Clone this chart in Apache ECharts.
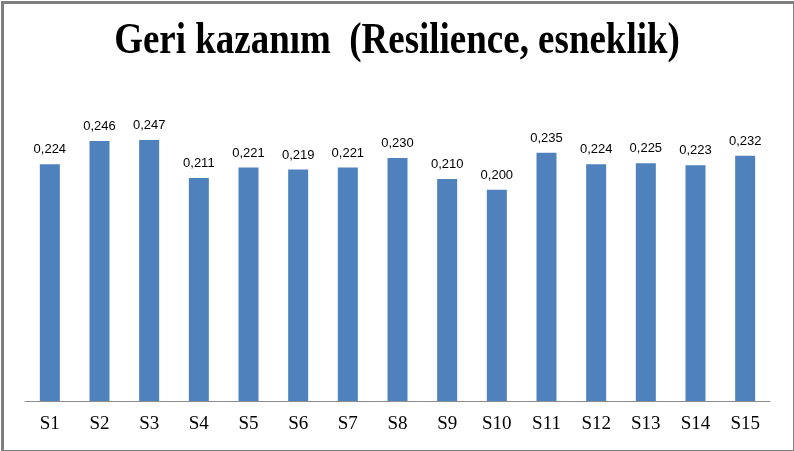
<!DOCTYPE html>
<html><head><meta charset="utf-8">
<script src="https://cdn.jsdelivr.net/npm/echarts@6/dist/echarts.min.js"></script>
<style>html,body{margin:0;padding:0;background:#fff}#c{width:794px;height:451px}</style>
</head><body><div id="c"></div>
<script>
const categories = ["S1","S2","S3","S4","S5","S6","S7","S8","S9","S10","S11","S12","S13","S14","S15"];
const values = [0.224,0.246,0.247,0.211,0.221,0.219,0.221,0.230,0.210,0.200,0.235,0.224,0.225,0.223,0.232];
const titleText = "Geri kazanım  (Resilience, esneklik)";
const chart = echarts.init(document.getElementById('c'), null, {renderer:'canvas'});
chart.setOption({
  animation:false,
  backgroundColor:'#fff',
  graphic:[
    {type:'rect',left:0,top:0,shape:{width:792,height:449},style:{fill:'none',stroke:'#7f7f7f',lineWidth:3},silent:true},
    {type:'text',x:397,y:42,scaleX:0.84,scaleY:1,originX:0,originY:0,silent:true,
      style:{text:titleText,fontFamily:'Liberation Serif',fontWeight:'bold',fontSize:44,fill:'#000',
        textAlign:'center',textVerticalAlign:'middle'}}
  ],
  grid:{left:25,right:24,top:84,bottom:50},
  xAxis:{type:'category',data:categories,axisTick:{show:false},axisLine:{lineStyle:{color:'#8c8c8c',width:1}},
    axisLabel:{fontFamily:'Liberation Serif',fontSize:19,color:'#000',margin:14}},
  yAxis:{type:'value',min:0,max:0.3,show:false,splitLine:{show:false}},
  series:[{type:'bar',data:values,barWidth:20,itemStyle:{color:'#4f81bd'},
    label:{show:true,position:'top',distance:8,fontFamily:'Liberation Sans',fontSize:13,color:'#000',
      formatter:p=>p.value.toFixed(3).replace('.',',')}}]
});
</script></body></html>
